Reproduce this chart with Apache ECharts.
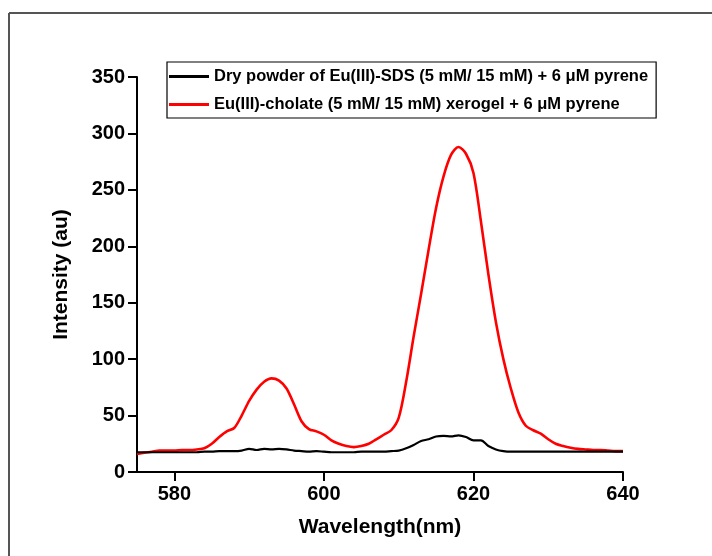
<!DOCTYPE html>
<html>
<head>
<meta charset="utf-8">
<script src="https://cdn.jsdelivr.net/npm/echarts@6/dist/echarts.min.js"></script>
<style>html,body{margin:0;padding:0;background:#fff}#c{width:712px;height:556px}</style>
</head>
<body>
<div id="c"></div>
<script>
var wavelengths = [];
for (var w = 575; w <= 640; w++) wavelengths.push(w);

var sdsName = 'Dry powder of Eu(III)-SDS (5 mM/ 15 mM) + 6 \u03bcM pyrene';
var cholateName = 'Eu(III)-cholate (5 mM/ 15 mM) xerogel + 6 \u03bcM pyrene';

var sdsValues = [
  17.5, 17.5, 17.5, 17.5, 17.5, 17.5, 17.5, 17.5, 17.5, 18, 18,
  18.5, 18.5, 18.5, 19, 20.5, 19.5, 20.5, 20, 20.5, 20,
  19, 18.5, 18, 18.5, 18, 17.5, 17.5, 17.5, 17.5, 18,
  18, 18, 18, 18.5, 19, 21, 24, 27.5, 29, 31.5,
  32, 31.5, 32.5, 31, 28, 28, 23, 20, 18.5, 18,
  18, 18, 18, 18, 18, 18, 18, 18, 18, 18,
  18, 18, 18, 18, 18
];

var cholateValues = [
  16, 17, 18, 19, 19, 19, 19.5, 19.5, 20, 21, 25,
  31, 36, 39, 50, 63, 73, 80, 83, 81, 74,
  60, 45, 38, 36, 33, 28, 25, 23, 22, 23,
  25, 29, 33, 37, 48, 80, 120, 158, 197, 234,
  262, 281, 288, 282, 265, 222, 175, 133, 100, 74,
  53, 41, 37, 34, 29, 25, 23, 21.5, 20.5, 20,
  19.5, 19.5, 19, 18.5, 18.5
];

var xTicks = [580, 600, 620, 640];

function pairs(vals) {
  return wavelengths.map(function (x, i) { return [x, vals[i]]; });
}

var font = '"Liberation Sans", Arial, sans-serif';
var chart = echarts.init(document.getElementById('c'), null, {renderer: 'canvas'});
chart.setOption({
  animation: false,
  backgroundColor: '#fff',
  graphic: [
    {type: 'line', shape: {x1: 9, y1: 13, x2: 712, y2: 13}, style: {stroke: '#555', lineWidth: 2}},
    {type: 'line', shape: {x1: 9, y1: 13, x2: 9, y2: 556}, style: {stroke: '#555', lineWidth: 2}}
  ],
  grid: {left: 137, right: 89, top: 77, bottom: 84, containLabel: false},
  legend: {
    left: 167, top: 62,
    orient: 'vertical',
    itemWidth: 40, itemHeight: 3, itemGap: 11,
    icon: 'rect',
    borderColor: '#000', borderWidth: 1.2,
    padding: [6, 8, 5, 2],
    textStyle: {fontFamily: font, fontWeight: 'bold', fontSize: 16.5, color: '#000'},
    data: [sdsName, cholateName]
  },
  xAxis: {
    type: 'value', min: 575, max: 640,
    axisLine: {lineStyle: {color: '#000', width: 2}},
    axisTick: {show: true, length: 9, lineStyle: {color: '#000', width: 2}, customValues: xTicks},
    axisLabel: {customValues: xTicks, margin: 12, fontFamily: font, fontWeight: 'bold', fontSize: 20, color: '#000'},
    splitLine: {show: false},
    name: 'Wavelength(nm)', nameLocation: 'middle', nameGap: 45,
    nameTextStyle: {fontFamily: font, fontWeight: 'bold', fontSize: 21, color: '#000'}
  },
  yAxis: {
    type: 'value', min: 0, max: 350, interval: 50,
    axisLine: {show: true, lineStyle: {color: '#000', width: 2}},
    axisTick: {show: true, length: 9, lineStyle: {color: '#000', width: 2}},
    axisLabel: {margin: 12, fontFamily: font, fontWeight: 'bold', fontSize: 20, color: '#000'},
    splitLine: {show: false},
    name: 'Intensity (au)', nameLocation: 'middle', nameGap: 65,
    nameTextStyle: {fontFamily: font, fontWeight: 'bold', fontSize: 21, color: '#000'}
  },
  series: [
    {name: sdsName, type: 'line', data: pairs(sdsValues), symbol: 'none', smooth: 0.3,
     lineStyle: {color: '#000', width: 2.2}, itemStyle: {color: '#000'}, z: 3},
    {name: cholateName, type: 'line', data: pairs(cholateValues), symbol: 'none', smooth: 0.3,
     lineStyle: {color: '#ff0000', width: 2.6}, itemStyle: {color: '#ff0000'}, z: 2}
  ]
});
</script>
</body>
</html>
